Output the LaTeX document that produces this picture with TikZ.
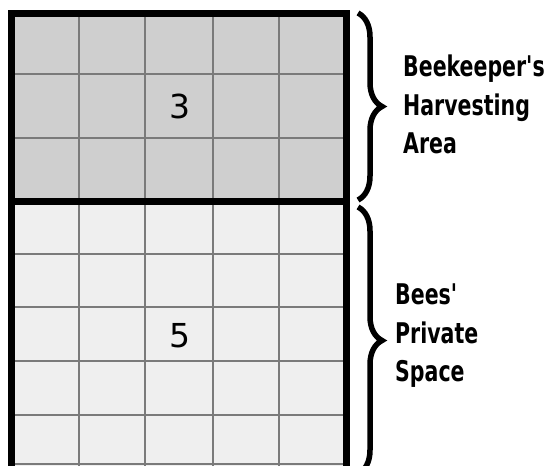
\documentclass[tikz,border=0pt]{standalone}
\usepackage{fontspec}
\usetikzlibrary{decorations.pathreplacing}
\newfontfamily\labfont{DejaVu Sans Condensed}[FakeStretch=0.8]
\newfontfamily\digfont{DejaVu Sans}
\definecolor{topgray}{HTML}{CFCFCF}
\definecolor{botgray}{HTML}{EFEFEF}
\definecolor{linegray}{HTML}{7A7A7A}
\begin{document}
\begin{tikzpicture}[x=1pt,y=-1pt,
  gridline/.style={draw=linegray,line width=1.8pt},
  border/.style={draw=black,line width=7pt},
  bracestyle/.style={draw=black,line width=5.5pt,decorate,decoration={brace,amplitude=24pt}},
  digit/.style={font=\digfont\fontsize{33}{33}\selectfont,inner sep=0pt},
  label/.style={font=\labfont\bfseries\fontsize{28.5}{38.5}\selectfont,align=left,anchor=north west,inner sep=0pt}]
\useasboundingbox (0,0) rectangle (552,466);
\fill[topgray] (11.5,13) rectangle (346.5,201);
\fill[botgray] (11.5,201) rectangle (346.5,472);
\foreach \x in {79,145,213,279} \draw[gridline] (\x,13) -- (\x,472);
\foreach \y in {74,138,254,307,361,415,464} \draw[gridline] (11.5,\y) -- (346.5,\y);
\draw[border] (11.5,472) -- (11.5,13) -- (346.5,13) -- (346.5,472);
\draw[border] (11.5,201) -- (346.5,201);
\node[digit] (n3) at (180,106.5) {3};
\node[digit] (n5) at (180,336) {5};
\coordinate (ta) at (358,13);
\coordinate (tb) at (358,200);
\coordinate (ba) at (358,207);
\coordinate (bb) at (358,474);
\draw[bracestyle] (ta) -- (tb);
\draw[bracestyle] (ba) -- (bb);
\node[label] (lt) at (403,55) {Beekeeper's\\Harvesting\\Area};
\node[label] (lb) at (395,284) {Bees'\\Private\\Space};
\end{tikzpicture}
\end{document}
